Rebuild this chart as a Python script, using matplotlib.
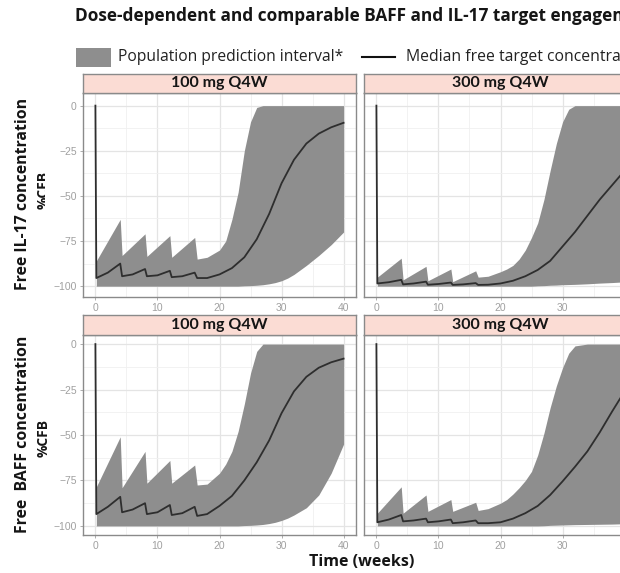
import matplotlib
matplotlib.use("Agg")
import matplotlib.pyplot as plt
from matplotlib.patches import Rectangle
from matplotlib.lines import Line2D
from matplotlib.ticker import MultipleLocator

plt.rcParams['font.family'] = ['Open Sans', 'DejaVu Sans']

# ---- data ----
title = "Dose-dependent and comparable BAFF and IL-17 target engagement"
legend_band = "Population prediction interval*"
legend_line = "Median free target concentration"
doses = ["100 mg Q4W", "300 mg Q4W"]
row_labels = ["Free IL-17 concentration", "Free  BAFF concentration"]
unit_label = "%CFB"
x_label = "Time (weeks)"
x_ticks = [0, 10, 20, 30, 40]
y_ticks = [0, -25, -50, -75, -100]
y_ticklabels = ["0", "\u221225", "\u221250", "\u221275", "\u2212100"]

band_weeks = [0.15, 4, 4.3, 8, 8.3, 12, 12.3, 16, 16.4, 18, 20, 21, 22, 23,
              24, 25, 26, 27, 28, 29, 30, 31, 32, 34, 36, 38, 40]

il17_100_hi = [-86, -63, -83, -71, -83.5, -72, -84, -73, -85, -84, -80, -75, -63, -48,
               -25, -9, -1, 0, 0, 0, 0, 0, 0, 0, 0, 0, 0]
il17_100_lo = [-100, -100, -100, -100, -100, -100, -100, -100, -100, -100, -100, -100, -100, -100,
               -99.8, -99.7, -99.5, -99.2, -98.7, -98, -97, -95.5, -93.5, -88.5, -83, -77, -70]
il17_300_hi = [-95, -84.5, -96.5, -89, -97, -90.5, -97.5, -91.5, -95, -94.5, -92, -90.5, -88.5, -85,
               -80, -73, -65, -52, -36, -21, -9, -2, 0, 0, 0, 0, 0]
il17_300_lo = [-100, -100, -100, -100, -100, -100, -100, -100, -100, -100, -100, -100, -100, -100,
               -100, -100, -99.8, -99.7, -99.5, -99.4, -99.2, -99.1, -99, -98.7, -98.3, -98, -97.6]
baff_100_hi = [-78.5, -51, -79, -59, -76.5, -64, -76.5, -66.5, -77.5, -77, -71, -66, -59, -48,
               -33, -16, -4, 0, 0, 0, 0, 0, 0, 0, 0, 0, 0]
baff_100_lo = [-100, -100, -100, -100, -100, -100, -100, -100, -100, -100, -100, -100, -100, -100,
               -99.8, -99.7, -99.5, -99.2, -98.7, -98, -97, -95.7, -94, -90, -83, -71, -55]
baff_300_hi = [-93, -78.5, -93, -83, -92, -85.5, -92, -87, -91.5, -90.5, -87.5, -85.5, -82.5, -79,
               -75, -70, -61, -49, -35, -23, -13, -5, -1, 0, 0, 0, 0]
baff_300_lo = [-100, -100, -100, -100, -100, -100, -100, -100, -100, -100, -100, -100, -100, -100,
               -100, -100, -100, -99.9, -99.7, -99.6, -99.5, -99.4, -99.3, -99.2, -99.1, -99, -98.8]

median_weeks = [0, 0.15, 2, 4, 4.3, 6, 8, 8.3, 10, 12, 12.3, 14, 16, 16.4, 18, 20,
                22, 24, 26, 28, 30, 32, 34, 36, 38, 40]
il17_100_med = [0, -95.5, -92.5, -87.5, -94.5, -93.5, -90.5, -94.5, -94, -91.5, -95, -94.5, -92.5,
                -95.5, -95.5, -93.5, -90, -84, -74, -60, -43, -30, -21, -15.5, -12, -9.5]
il17_300_med = [0, -98.5, -97.8, -96.5, -99, -98.5, -97.5, -99.2, -98.8, -98, -99.3, -99, -98.3,
                -99.3, -99.2, -98.5, -97, -94.5, -91, -86, -78, -70, -61, -52, -44, -36]
baff_100_med = [0, -93.5, -89.5, -84, -92.5, -91, -87.5, -93.5, -92.5, -88.5, -94, -93, -89.5,
                -94.5, -93.5, -89, -83.5, -75, -65, -53, -38, -26, -18, -13, -10, -8]
baff_300_med = [0, -98, -96.5, -94, -97.5, -97, -96, -98, -97.5, -96.5, -98.5, -98, -97,
                -98.5, -98.5, -98, -96, -93, -89, -83, -75.5, -67.5, -59, -48.5, -37, -26]

panels = [
    [(il17_100_lo, il17_100_hi, il17_100_med), (il17_300_lo, il17_300_hi, il17_300_med)],
    [(baff_100_lo, baff_100_hi, baff_100_med), (baff_300_lo, baff_300_hi, baff_300_med)],
]

# ---- layout in pixels (figure is 620 x 573) ----
W, H = 620, 573
fig = plt.figure(figsize=(6.2, 5.73), dpi=100)


def fx(x):
    return x / W


def fy(y):
    return 1 - y / H


def px_axes(x0, y0, x1, y1):
    return fig.add_axes([fx(x0), fy(y1), fx(x1 - x0), (y1 - y0) / H])


band_col = "#8e8e8e"
line_col = "#2e2e2e"
grid_major = "#e4e4e4"
grid_minor = "#f0f0f0"
border_col = "#8a8a8a"
strip_col = "#fbdcd4"
tick_col = "#a0a0a0"
text_col = "#151515"

col_x = [(83, 356), (364, 637)]
row_y = [(74, 93, 297), (315, 335, 535)]
ylims = [(-106, 7), (-105, 5)]

for r in range(2):
    s_top, p_top, p_bot = row_y[r]
    for c in range(2):
        x0, x1 = col_x[c]
        lo, hi, med = panels[r][c]

        ax = px_axes(x0, p_top, x1, p_bot)
        ax.fill_between(band_weeks, lo, hi, color=band_col, linewidth=0, zorder=2)
        ax.plot(median_weeks, med, color=line_col, linewidth=1.3, zorder=3)
        ax.set_xlim(-2, 42)
        ax.set_ylim(*ylims[r])
        ax.xaxis.set_minor_locator(MultipleLocator(5))
        ax.yaxis.set_minor_locator(MultipleLocator(12.5))
        ax.grid(which="major", color=grid_major, linewidth=0.9, zorder=0)
        ax.grid(which="minor", color=grid_minor, linewidth=0.6, zorder=0)
        ax.set_axisbelow(True)
        for sp in ax.spines.values():
            sp.set_color(border_col)
            sp.set_linewidth(1.0)
        ax.set_xticks(x_ticks)
        # the "40" of the right column falls outside the cropped picture
        ax.set_xticklabels([str(v) if (c == 0 or v < 40) else "" for v in x_ticks],
                           family="Liberation Sans")
        ax.set_yticks(y_ticks)
        ax.set_yticklabels(y_ticklabels, family="Liberation Sans")
        ax.tick_params(which="major", length=2.5, width=0.6, color=tick_col,
                       labelcolor=tick_col, labelsize=7.5, pad=2)
        ax.tick_params(which="minor", length=0)
        if c == 1:
            ax.tick_params(axis="y", labelleft=False, length=0)

        sax = px_axes(x0, s_top, x1, p_top)
        sax.set_facecolor(strip_col)
        sax.set_xticks([])
        sax.set_yticks([])
        for sp in sax.spines.values():
            sp.set_color(border_col)
            sp.set_linewidth(1.0)
        sax.text(0.5, 0.5, doses[c], transform=sax.transAxes, ha="center", va="center",
                 fontsize=11.5, fontweight="bold", color=text_col, family="Lato")

# ---- titles, legend, axis labels ----
fig.text(fx(75), fy(16), title, ha="left", va="center", fontsize=12.4,
         fontweight="bold", color=text_col)

fig.patches.append(Rectangle((fx(76), fy(67)), fx(111) - fx(76), (67 - 48) / H,
                             transform=fig.transFigure, facecolor=band_col,
                             edgecolor="none", figure=fig))
fig.text(fx(118), fy(57), legend_band, ha="left", va="center", fontsize=11.25, color="#222222")
fig.lines.append(Line2D([fx(362), fx(395)], [fy(57), fy(57)], transform=fig.transFigure,
                        color="#111111", linewidth=1.5, figure=fig))
fig.text(fx(406), fy(57), legend_line, ha="left", va="center", fontsize=11.3, color="#222222")

label_centers = [194, 434]
unit_centers = [190, 438]
for r in range(2):
    fig.text(fx(23), fy(label_centers[r]), row_labels[r], rotation=90, ha="center",
             va="center", fontsize=11.4, fontweight="bold", color=text_col)
    fig.text(fx(44), fy(unit_centers[r]), unit_label, rotation=90, ha="center",
             va="center", fontsize=10, fontweight="bold", color=text_col)

# the upper unit line is half hidden in the source picture
fig.patches.append(Rectangle((fx(44.5), fy(220)), fx(57) - fx(44.5), (220 - 160) / H,
                             transform=fig.transFigure, facecolor="white",
                             edgecolor="none", zorder=10, figure=fig))

fig.text(fx(362), fy(562), x_label, ha="center", va="center", fontsize=11.5,
         fontweight="bold", color=text_col)

fig.savefig("out.png", dpi=100)
